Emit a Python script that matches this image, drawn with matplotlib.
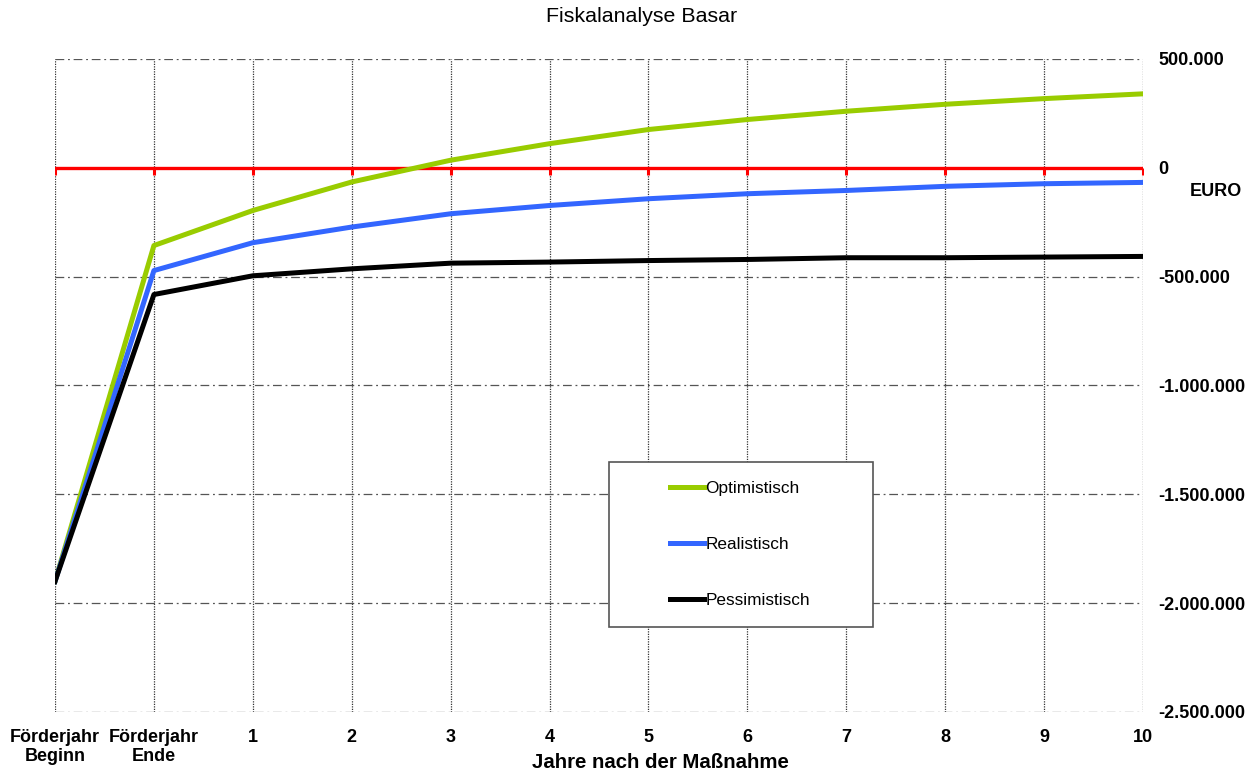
import matplotlib
matplotlib.use("Agg")
import matplotlib.pyplot as plt
from matplotlib.patches import Rectangle
from matplotlib.ticker import FuncFormatter

plt.rcParams['font.family'] = ['Liberation Sans', 'DejaVu Sans']

categories = ["Förderjahr\nBeginn", "Förderjahr\nEnde", "1", "2", "3", "4", "5",
              "6", "7", "8", "9", "10"]
optimistisch = [-1900000, -357000, -196000, -65000, 35000, 111000, 176000,
                222000, 260000, 292000, 318000, 340000]
realistisch = [-1900000, -472000, -344000, -272000, -211000, -173000, -142000,
               -119000, -104000, -85000, -73000, -67000]
pessimistisch = [-1900000, -582000, -496000, -464000, -438000, -433000, -426000,
                 -421000, -413000, -413000, -410000, -407000]
nulllinie = [0] * len(categories)
y_ticks = [500000, 0, -500000, -1000000, -1500000, -2000000, -2500000]

fig = plt.figure(figsize=(12.52, 7.74), dpi=100)
ax = fig.add_axes([55/1252, 1-712/774, (1143-55)/1252, (712-59)/774])

x = list(range(len(categories)))

ax.plot(x, nulllinie, color='#FF0000', lw=2.4, marker=3, markersize=5,
        markeredgewidth=2.2, zorder=3)
ax.plot(x, optimistisch, color='#99CC00', lw=3.6, zorder=4, label='Optimistisch',
        solid_joinstyle='round')
ax.plot(x, realistisch, color='#3366FF', lw=3.6, zorder=5, label='Realistisch',
        solid_joinstyle='round')
ax.plot(x, pessimistisch, color='#000000', lw=3.6, zorder=6, label='Pessimistisch',
        solid_joinstyle='round')

ax.set_xlim(0, len(categories) - 1)
ax.set_ylim(-2500000, 500000)

for xi in x:
    ax.axvline(xi, color='#333333', lw=0.9, ls=(0, (1, 1)), zorder=1)
for yt in y_ticks:
    ax.axhline(yt, color='#555555', lw=0.9, ls=(0, (7, 3, 1.5, 3)), zorder=1)

for s in ax.spines.values():
    s.set_visible(False)

ax.set_xticks(x)
ax.set_xticklabels(categories, fontsize=13, fontweight='bold')
ax.yaxis.tick_right()
ax.set_yticks(y_ticks)
ax.yaxis.set_major_formatter(FuncFormatter(lambda v, p: f"{int(v):,}".replace(",", ".")))
for lbl in ax.get_yticklabels():
    lbl.set_fontweight('bold')
    lbl.set_fontsize(13)
ax.tick_params(axis='both', length=0)
ax.tick_params(axis='y', pad=11)
ax.tick_params(axis='x', pad=12)

fig.text(660/1252, 1-763/774, "Jahre nach der Maßnahme", ha='center', va='center',
         fontsize=14.7, fontweight='bold')
fig.text(642/1252, 1-17/774, "Fiskalanalyse Basar", ha='center', va='center', fontsize=15.4)
fig.text(1216/1252, 1-192/774, "EURO", ha='center', va='center', fontsize=13,
         fontweight='bold')

# legend box
rect = Rectangle((609/1252, 1-627/774), (873-609)/1252, (627-462)/774,
                 transform=fig.transFigure, facecolor='white', edgecolor='#555555',
                 lw=1.2, zorder=10)
fig.patches.append(rect)
leg = fig.legend(loc='center', bbox_to_anchor=(740/1252, 1-544.5/774), frameon=False,
                 fontsize=12.4, handlelength=2.0, handletextpad=0.05, labelspacing=2.35)
leg.set_zorder(11)

fig.savefig("out.png", dpi=100)
